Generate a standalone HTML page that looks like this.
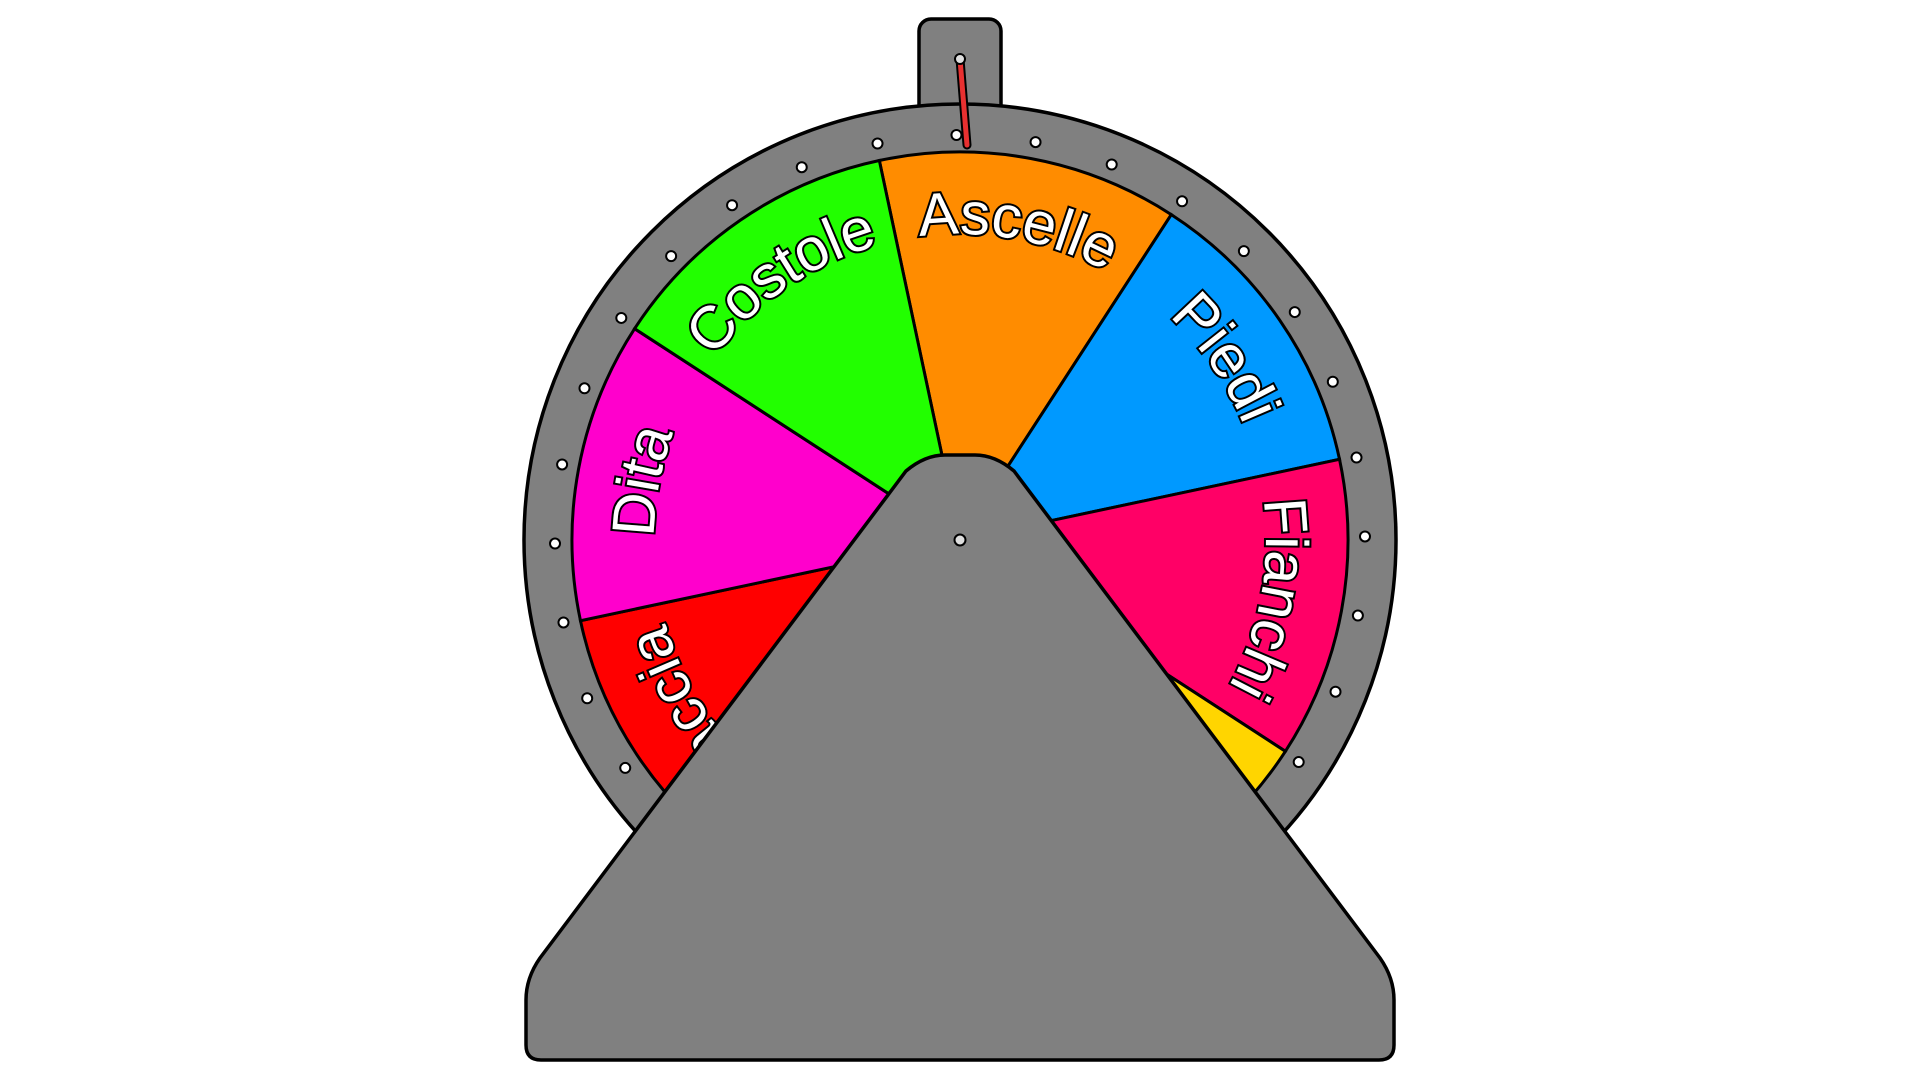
<!DOCTYPE html>
<html><head><meta charset="utf-8"><style>html,body{margin:0;padding:0;background:#fff;}svg{display:block}</style></head>
<body>
<svg width="1920" height="1080" viewBox="0 0 1920 1080" xmlns="http://www.w3.org/2000/svg">
<rect x="919" y="19" width="82" height="110" rx="12" fill="#808080" stroke="#000" stroke-width="3.5"/>
<circle cx="960" cy="540" r="436" fill="#808080" stroke="#000" stroke-width="3.5"/>
<g id="wheel" stroke="#000" stroke-width="3"></g>
<g id="holes" fill="#fff" stroke="#000" stroke-width="2"></g>
<g id="labels" font-family="'Comic Sans MS','Liberation Sans',sans-serif" font-size="60" font-weight="normal" fill="#fff" stroke="#000" stroke-width="4" paint-order="stroke" text-anchor="middle"></g>
<line x1="960" y1="59" x2="967" y2="145" stroke="#000" stroke-width="9" stroke-linecap="round"/>
<line x1="960" y1="59" x2="967" y2="145" stroke="#e83030" stroke-width="5" stroke-linecap="round"/>
<circle cx="960" cy="59" r="5" fill="#ddd" stroke="#000" stroke-width="2"/>
<path d="M906 471 Q925 455 945 455 L975 455 Q995 455 1014 471 L1380 958 Q1394 978 1394 1000 L1394 1045 Q1394 1060 1379 1060 L541 1060 Q526 1060 526 1045 L526 1000 Q526 978 540 958 Z" fill="#808080" stroke="#000" stroke-width="3.5"/>
<circle cx="960" cy="540" r="5.5" fill="#ddd" stroke="#000" stroke-width="2"/>
</svg>
<script>
const NS="http://www.w3.org/2000/svg",cx=960,cy=540,R=388;
function pt(a,r){a=a*Math.PI/180;return [cx+r*Math.sin(a),cy-r*Math.cos(a)];}
const segs=[["Ascelle","#FF8C00"],["Piedi","#0099FF"],["Fianchi","#FF0066"],["Pancia","#FFD500"],["Collo","#9933FF"],["Braccia","#FF0000"],["Dita","#FF00CC"],["Costole","#22FF00"]];
const w=document.getElementById("wheel"),L=document.getElementById("labels"),defs=document.createElementNS(NS,"defs");
document.querySelector("svg").prepend(defs);
segs.forEach((s,i)=>{const a0=-12+45*i,a1=a0+45;const p0=pt(a0,R),p1=pt(a1,R);
const p=document.createElementNS(NS,"path");p.setAttribute("d",`M${cx} ${cy} L${p0} A${R} ${R} 0 0 1 ${p1} Z`);p.setAttribute("fill",s[1]);w.appendChild(p);
const m=(a0+a1)/2,r=306,q0=pt(m-60,r),q1=pt(m+60,r);
const tp=document.createElementNS(NS,"path");tp.setAttribute("id","tp"+i);tp.setAttribute("d",`M${q0} A${r} ${r} 0 0 1 ${q1}`);defs.appendChild(tp);
const t=document.createElementNS(NS,"text");const tt=document.createElementNS(NS,"textPath");tt.setAttribute("href","#tp"+i);tt.setAttribute("startOffset","50%");tt.textContent=s[0];t.appendChild(tt);L.appendChild(t);});
const h=document.getElementById("holes");
for(let i=0;i<32;i++){const p=pt(i*11.25-0.5,405);const c=document.createElementNS(NS,"circle");c.setAttribute("cx",p[0]);c.setAttribute("cy",p[1]);c.setAttribute("r",5);h.appendChild(c);}
</script>
</body></html>
